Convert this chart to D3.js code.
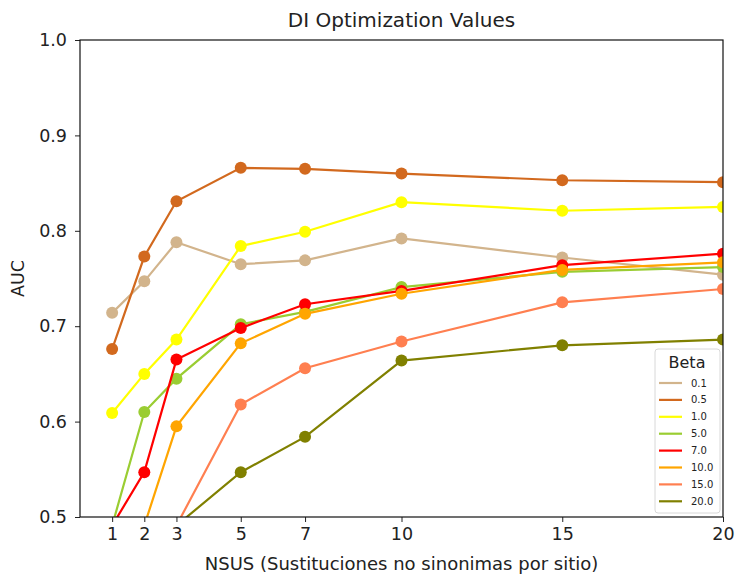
<!DOCTYPE html>
<html>
<head>
<meta charset="utf-8">
<script src="https://cdn.jsdelivr.net/npm/d3@7"></script>
<style>
  body { margin: 0; background: #fff; }
  text { font-family: "DejaVu Sans", sans-serif; fill: #222; }
</style>
</head>
<body>
<svg id="chart" width="736" height="575"></svg>
<script>
/*
Chart data
 */
const nsus = [1, 2, 3, 5, 7, 10, 15, 20];
const betas = ["0.1", "0.5", "1.0", "5.0", "7.0", "10.0", "15.0", "20.0"];
const colors = ["tan", "chocolate", "yellow", "yellowgreen", "red", "orange", "coral", "olive"];

// AUC per beta, one value for each nsus (values under 0.5 fall off the axes)
const auc01  = [0.714, 0.747, 0.788, 0.765, 0.769, 0.792, 0.772, 0.754];
const auc05  = [0.676, 0.773, 0.831, 0.866, 0.865, 0.860, 0.853, 0.851];
const auc10  = [0.609, 0.650, 0.686, 0.784, 0.799, 0.830, 0.821, 0.825];
const auc50  = [0.491, 0.610, 0.645, 0.702, 0.715, 0.741, 0.757, 0.762];
const auc70  = [0.491, 0.547, 0.665, 0.698, 0.723, 0.737, 0.764, 0.776];
const auc100 = [0.470, 0.491, 0.595, 0.682, 0.713, 0.734, 0.759, 0.767];
const auc150 = [0.440, 0.470, 0.491, 0.618, 0.656, 0.684, 0.725, 0.739];
const auc200 = [0.420, 0.450, 0.491, 0.547, 0.584, 0.664, 0.680, 0.686];
const series = [auc01, auc05, auc10, auc50, auc70, auc100, auc150, auc200];

const yTicks = [0.5, 0.6, 0.7, 0.8, 0.9, 1.0];

/*
Layout constants
 */
const margin = {left: 80, right: 13, top: 40, bottom: 58};
const width = 736, height = 575;
const plotW = width - margin.left - margin.right;
const plotH = height - margin.top - margin.bottom;

var svg = d3.select("#chart");

var x = d3.scaleLinear().domain([0, 20]).range([margin.left, margin.left + plotW]);
var y = d3.scaleLinear().domain([0.5, 1.0]).range([margin.top + plotH, margin.top]);

svg.append("defs").append("clipPath").attr("id", "plotclip")
    .append("rect")
    .attr("x", margin.left).attr("y", margin.top)
    .attr("width", plotW).attr("height", plotH);

//lines + markers, clipped to the axes like matplotlib does
var plot = svg.append("g").attr("clip-path", "url(#plotclip)");
var line = d3.line().x(function(d, i) { return x(nsus[i]); }).y(function(d) { return y(d); });

series.forEach(function(vals, k) {
    var g = plot.append("g");
    g.append("path")
        .attr("d", line(vals))
        .attr("fill", "none")
        .attr("stroke", colors[k])
        .attr("stroke-width", 2.2);
    g.selectAll("circle").data(vals).enter().append("circle")
        .attr("cx", function(d, i) { return x(nsus[i]); })
        .attr("cy", function(d) { return y(d); })
        .attr("r", 6)
        .attr("fill", colors[k]);
});

//axes
var xAxis = d3.axisBottom(x).tickValues(nsus).tickSize(5).tickPadding(6).tickFormat(d3.format("d"));
var yAxis = d3.axisLeft(y).tickValues(yTicks).tickSize(5).tickPadding(8).tickFormat(d3.format(".1f"));

var gx = svg.append("g").attr("transform", "translate(0," + (margin.top + plotH) + ")").call(xAxis);
var gy = svg.append("g").attr("transform", "translate(" + margin.left + ",0)").call(yAxis);
[gx, gy].forEach(function(g) {
    g.select(".domain").remove();
    g.selectAll("line").attr("stroke", "#222").attr("stroke-width", 1);
    g.selectAll("text").attr("font-size", 17.5).attr("fill", "#222");
});

//frame
svg.append("rect")
    .attr("x", margin.left).attr("y", margin.top)
    .attr("width", plotW).attr("height", plotH)
    .attr("fill", "none").attr("stroke", "#111").attr("stroke-width", 1.2);

//titles
svg.append("text")
    .attr("x", margin.left + plotW / 2).attr("y", 27)
    .attr("text-anchor", "middle").attr("font-size", 20)
    .text("DI Optimization Values");
svg.append("text")
    .attr("x", margin.left + plotW / 2).attr("y", 570)
    .attr("text-anchor", "middle").attr("font-size", 18)
    .text("NSUS (Sustituciones no sinonimas por sitio)");
svg.append("text")
    .attr("transform", "translate(24," + (margin.top + plotH / 2) + ") rotate(-90)")
    .attr("text-anchor", "middle").attr("font-size", 17.5)
    .text("AUC");

//legend
var lg = svg.append("g").attr("transform", "translate(655,349)");
lg.append("rect")
    .attr("width", 65).attr("height", 164).attr("rx", 3)
    .attr("fill", "#fff").attr("fill-opacity", 0.85)
    .attr("stroke", "#d8d8d8");
lg.append("text").attr("x", 32).attr("y", 19)
    .attr("text-anchor", "middle").attr("font-size", 16).text("Beta");
var items = lg.selectAll("g.item").data(betas).enter().append("g")
    .attr("class", "item")
    .attr("transform", function(d, i) { return "translate(0," + (34 + i * 16.9) + ")"; });
items.append("line")
    .attr("x1", 4).attr("x2", 27)
    .attr("stroke", function(d, i) { return colors[i]; })
    .attr("stroke-width", 2.2);
items.append("text")
    .attr("x", 36).attr("dy", "0.35em")
    .attr("font-size", 10)
    .text(function(d) { return d; });
</script>
</body>
</html>
